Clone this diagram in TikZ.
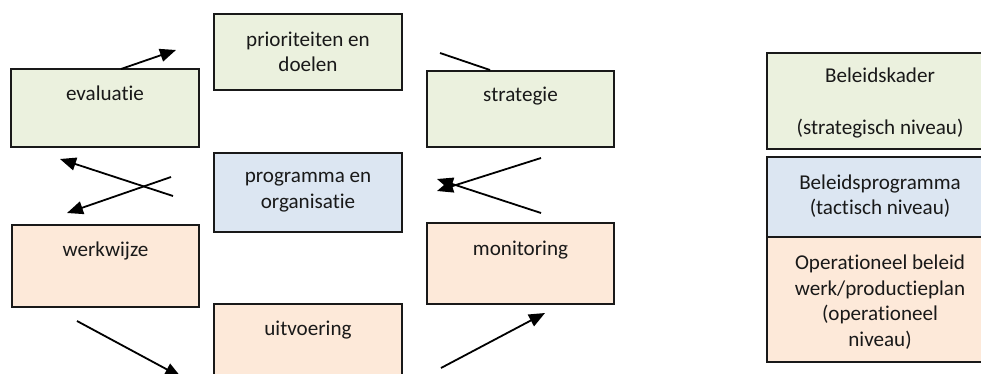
\documentclass[tikz,border=0pt]{standalone}
\usepackage{fontspec}
\setmainfont{Carlito}[Ligatures={NoCommon,NoContextual}]
\usetikzlibrary{arrows.meta}
\definecolor{bgreen}{HTML}{EBF1DE}
\definecolor{bblue}{HTML}{DCE6F2}
\definecolor{bpeach}{HTML}{FDE9D9}
\tikzset{
  rbox/.style={draw=black!90, line width=1.4pt, anchor=north west, inner sep=0pt, outer sep=0pt},
  boxg/.style={rbox, fill=bgreen},
  boxb/.style={rbox, fill=bblue},
  boxp/.style={rbox, fill=bpeach},
  lbl/.style={font=\fontsize{21.1}{25.6}\selectfont, align=center, inner sep=0pt, text=black!90},
  arr/.style={line width=1.8pt, -{Triangle[length=16pt,width=13pt]}},
  ln/.style={line width=1.8pt},
}
\begin{document}
\begin{tikzpicture}[x=1pt,y=-1pt]
\useasboundingbox (0,0) rectangle (981,374);

% cycle boxes
\node[boxg, minimum width=188pt, minimum height=76pt] (pd) at (214,14) {};
\node[boxg, minimum width=188pt, minimum height=78pt] (ev) at (11,69) {};
\node[boxg, minimum width=187pt, minimum height=76pt] (st) at (427,71) {};
\node[boxb, minimum width=188pt, minimum height=79pt] (po) at (214,153) {};
\node[boxp, minimum width=187pt, minimum height=82pt] (ww) at (12,225) {};
\node[boxp, minimum width=187pt, minimum height=81pt] (mo) at (427,223) {};
\node[boxp, minimum width=188pt, minimum height=100pt] (ui) at (214,304) {};

% legend boxes (their right side lies outside the picture)
\node[boxg, minimum width=250pt, minimum height=96pt] (bk) at (767,53) {};
\node[boxb, minimum width=250pt, minimum height=80pt] (bp) at (767,157) {};
\node[boxp, minimum width=250pt, minimum height=125pt] (ob) at (767,237) {};

% labels
\node[lbl] (tpd) at ([yshift=-38pt]pd.north) {prioriteiten en\\doelen};
\node[lbl] (tev) at ([yshift=-24pt]ev.north) {evaluatie};
\node[lbl] (tst) at ([yshift=-25pt]st.north) {strategie};
\node[lbl] (tpo) at ([yshift=-39pt]po.north) {programma en\\organisatie};
\node[lbl] (tww) at ([yshift=-26pt]ww.north) {werkwijze};
\node[lbl] (tmo) at ([yshift=-27pt]mo.north) {monitoring};
\node[lbl] (tui) at ([yshift=-26pt]ui.north) {uitvoering};
\node[lbl] (tbk) at (880,103) {Beleidskader\\\mbox{}\\(strategisch niveau)};
\node[lbl] (tbp) at (880,196) {Beleidsprogramma\\(tactisch niveau)};
\node[lbl] (tob) at (880,302) {Operationeel beleid\\werk/productieplan\\(operationeel\\niveau)};

% connector end points
\coordinate (a1s) at (121,69);  \coordinate (a1e) at (176,50);
\coordinate (a2s) at (440,53);  \coordinate (a2e) at (490,70);
\coordinate (a3s) at (541,158); \coordinate (a3e) at (437,191);
\coordinate (a4s) at (541,213); \coordinate (a4e) at (437,179);
\coordinate (a5s) at (173,196); \coordinate (a5e) at (60,159);
\coordinate (a6s) at (171,177); \coordinate (a6e) at (67,213);
\coordinate (a7s) at (77,321);  \coordinate (a7e) at (181,377);
\coordinate (a8s) at (441,368); \coordinate (a8e) at (545,313);

\draw[arr] (a1s) -- (a1e);
\draw[ln]  (a2s) -- (a2e);
\draw[arr] (a3s) -- (a3e);
\draw[arr] (a4s) -- (a4e);
\draw[arr] (a5s) -- (a5e);
\draw[arr] (a6s) -- (a6e);
\draw[arr] (a7s) -- (a7e);
\draw[arr] (a8s) -- (a8e);
\end{tikzpicture}
\end{document}
